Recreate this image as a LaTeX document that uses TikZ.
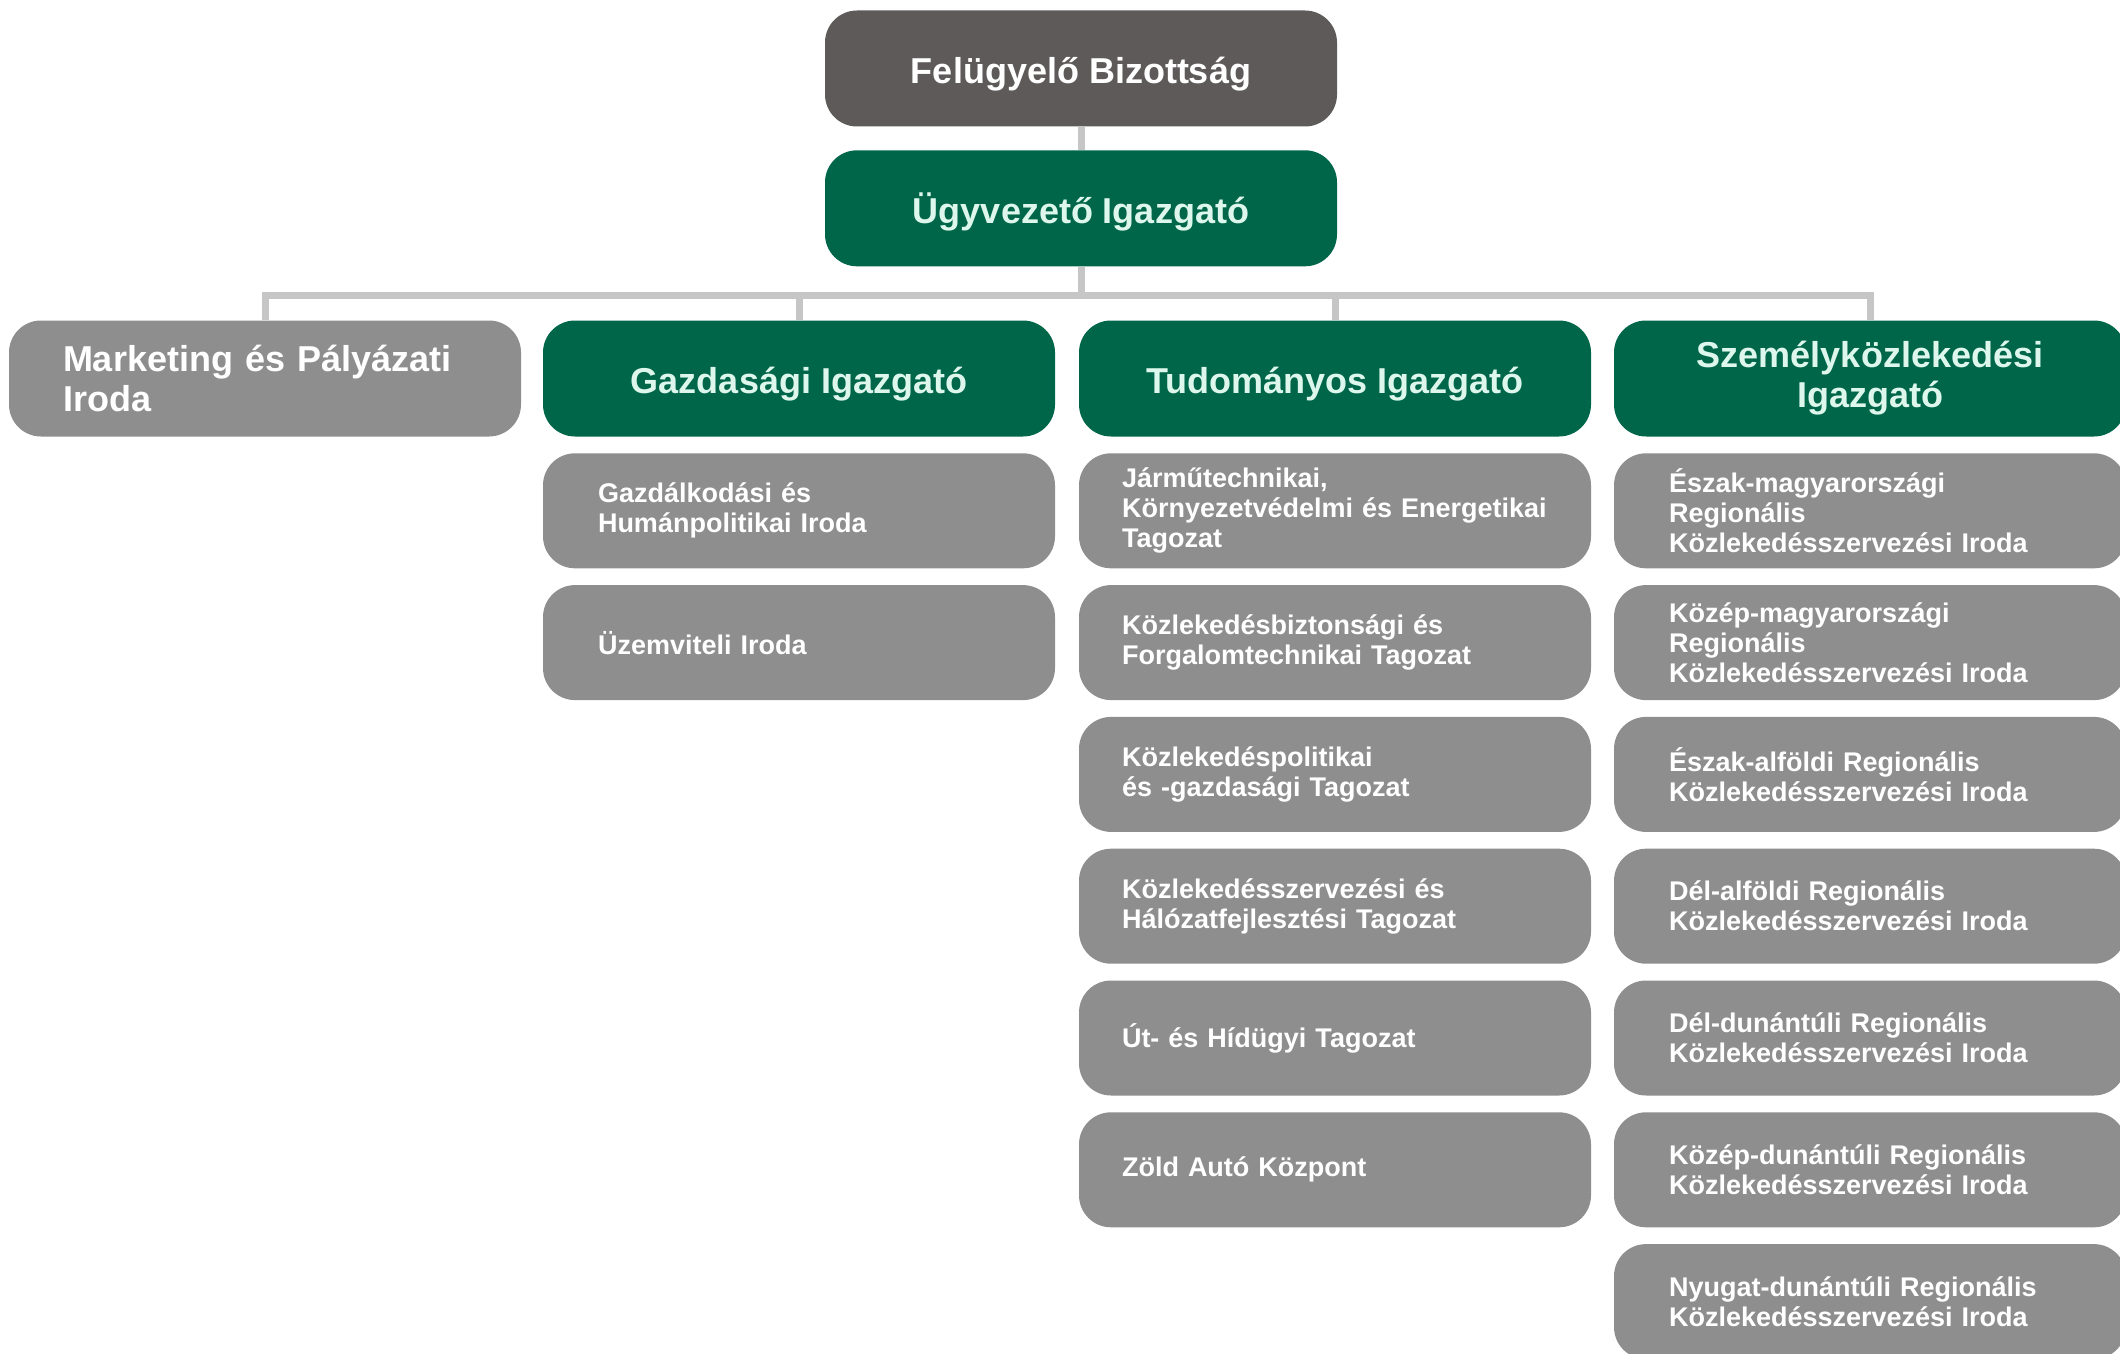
\documentclass[tikz,border=0pt]{standalone}
\usepackage{fontspec}
\setmainfont{Liberation Sans}
\usetikzlibrary{positioning}
\definecolor{boardgray}{HTML}{5E5A5A}
\definecolor{dirgreen}{HTML}{00664A}
\definecolor{unitgray}{HTML}{8E8E8E}
\definecolor{linkgray}{HTML}{C6C6C6}
\definecolor{mint}{HTML}{DDF7EC}
\tikzstyle{basebox} = [rectangle, rounded corners=16pt, minimum width=256pt]
\tikzstyle{headbox} = [basebox, minimum height=58pt, fill=dirgreen, text=mint,
    align=center, font=\fontsize{18}{20}\selectfont\bfseries]
\tikzstyle{oneline} = [text height=19pt, text depth=4pt]
\tikzstyle{boardbox} = [headbox, oneline, fill=boardgray, text=white]
\tikzstyle{officebox} = [headbox, fill=unitgray, text=white, align=left, text width=202pt]
\tikzstyle{unitbox} = [basebox, minimum height=57.5pt, fill=unitgray, text=white,
    align=left, text width=201pt, font=\fontsize{13.5}{15}\selectfont\bfseries]
\tikzstyle{link} = [draw=linkgray, line width=3.5pt]

\begin{document}
\begin{tikzpicture}[x=0.5pt,y=-0.5pt]
\useasboundingbox (0,0) rectangle (2120,1354);

\node [boardbox] (board) at (1081,68.5) {Felügyelő Bizottság};
\node [headbox,oneline,below=11.5pt of board] (ceo) {Ügyvezető Igazgató};

% igazgatok
\node [officebox] (mkt) at (265,378.5) {Marketing és Pályázati\\Iroda};
\node [headbox,oneline] (gaz) at (799,378.5) {Gazdasági Igazgató};
\node [headbox,oneline] (tud) at (1335,378.5) {Tudományos Igazgató};
\node [headbox] (szem) at (1870,378.5) {Személyközlekedési\\Igazgató};

% gazdasagi
\node [unitbox,below=8pt of gaz] (gaz1) {Gazdálkodási és\\Humánpolitikai Iroda};
\node [unitbox,below=8pt of gaz1] (gaz2) {Üzemviteli Iroda};

% tudomanyos
\node [unitbox,text width=213pt,below=8pt of tud] (tud1) {Járműtechnikai,\\Környezetvédelmi és Energetikai\\Tagozat};
\node [unitbox,text width=213pt,below=8pt of tud1] (tud2) {Közlekedésbiztonsági és\\Forgalomtechnikai Tagozat};
\node [unitbox,text width=213pt,below=8pt of tud2] (tud3) {Közlekedéspolitikai\\és -gazdasági Tagozat};
\node [unitbox,text width=213pt,below=8pt of tud3] (tud4) {Közlekedésszervezési és\\Hálózatfejlesztési Tagozat};
\node [unitbox,text width=213pt,below=8pt of tud4] (tud5) {Út- és Hídügyi Tagozat};
\node [unitbox,text width=213pt,below=8pt of tud5] (tud6) {Zöld Autó Központ};

% szemelykozlekedesi
\node [unitbox,below=8pt of szem] (szem1) {Észak-magyarországi\\Regionális\\Közlekedésszervezési Iroda};
\node [unitbox,below=8pt of szem1] (szem2) {Közép-magyarországi\\Regionális\\Közlekedésszervezési Iroda};
\node [unitbox,below=8pt of szem2] (szem3) {Észak-alföldi Regionális\\Közlekedésszervezési Iroda};
\node [unitbox,below=8pt of szem3] (szem4) {Dél-alföldi Regionális\\Közlekedésszervezési Iroda};
\node [unitbox,below=8pt of szem4] (szem5) {Dél-dunántúli Regionális\\Közlekedésszervezési Iroda};
\node [unitbox,below=8pt of szem5] (szem6) {Közép-dunántúli Regionális\\Közlekedésszervezési Iroda};
\node [unitbox,below=8pt of szem6] (szem7) {Nyugat-dunántúli Regionális\\Közlekedésszervezési Iroda};

% vonalak
\coordinate (split) at (1081,295);
\draw [link] (board) -- (ceo);
\draw [link] (ceo) -- (split);
\foreach \col in {mkt,gaz,tud,szem}
    \draw [link] (split) -| (\col.north);

\end{tikzpicture}
\end{document}
